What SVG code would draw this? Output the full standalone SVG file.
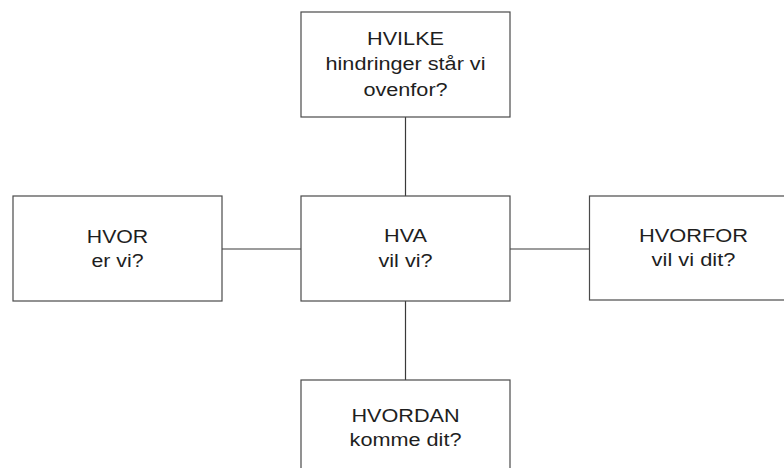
<svg xmlns="http://www.w3.org/2000/svg" width="784" height="468" viewBox="0 0 784 468">
<style>
  .box { fill: #ffffff; stroke: #4a4a4a; stroke-width: 1.2; }
  .conn { stroke: #3a3a3a; stroke-width: 1.2; fill: none; }
  .lbl { font-family: "Liberation Sans", Arial, sans-serif; font-size: 19px; fill: #1e1e1e; text-anchor: middle; }
</style>
<rect x="0" y="0" width="784" height="468" fill="#ffffff"/>
<g id="connectors">
  <line class="conn" x1="405.5" y1="117" x2="405.5" y2="196"/>
  <line class="conn" x1="222" y1="249" x2="301" y2="249"/>
  <line class="conn" x1="510" y1="249" x2="589.5" y2="249"/>
  <line class="conn" x1="405.5" y1="301" x2="405.5" y2="380"/>
</g>
<g id="node-hvilke">
  <rect class="box" x="301" y="12" width="209" height="105"/>
  <g transform="translate(405.5 0) scale(1.14 1)">
    <text class="lbl" x="0" y="45">HVILKE</text>
    <text class="lbl" x="0" y="70">hindringer står vi</text>
    <text class="lbl" x="0" y="96">ovenfor?</text>
  </g>
</g>
<g id="node-hvor">
  <rect class="box" x="13" y="196" width="209" height="105"/>
  <g transform="translate(117.5 0) scale(1.12 1)">
    <text class="lbl" x="0" y="243">HVOR</text>
    <text class="lbl" x="0" y="267">er vi?</text>
  </g>
</g>
<g id="node-hva">
  <rect class="box" x="301" y="196" width="209" height="105"/>
  <g transform="translate(405.5 0) scale(1.14 1)">
    <text class="lbl" x="0" y="242.5">HVA</text>
    <text class="lbl" x="0" y="267">vil vi?</text>
  </g>
</g>
<g id="node-hvorfor">
  <rect class="box" x="589.5" y="196" width="209" height="104"/>
  <g transform="translate(693.5 0) scale(1.15 1)">
    <text class="lbl" x="0" y="242">HVORFOR</text>
    <text class="lbl" x="0" y="266.5">vil vi dit?</text>
  </g>
</g>
<g id="node-hvordan">
  <rect class="box" x="301" y="380" width="209" height="105"/>
  <g transform="translate(405.5 0) scale(1.14 1)">
    <text class="lbl" x="0" y="422">HVORDAN</text>
    <text class="lbl" x="0" y="446.5">komme dit?</text>
  </g>
</g>
</svg>
